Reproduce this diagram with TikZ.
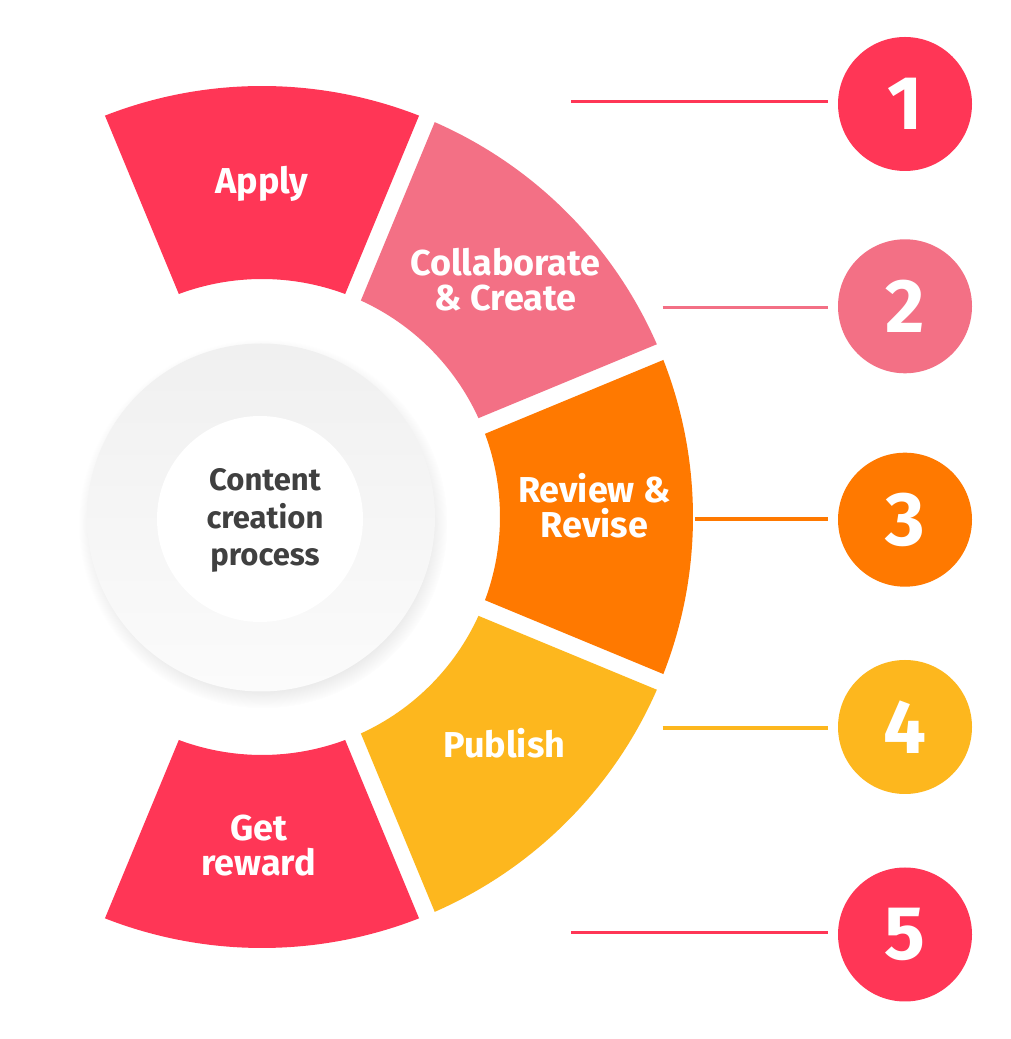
\documentclass[tikz,border=0pt]{standalone}
\usepackage{fontspec}
\setmainfont{Fira Sans}
\usetikzlibrary{calc,shadows,fadings}
\definecolor{redc}{RGB}{255,54,86}
\definecolor{pinkc}{RGB}{243,112,133}
\definecolor{orangec}{RGB}{255,121,0}
\definecolor{yellowc}{RGB}{253,183,30}
\definecolor{textc}{RGB}{64,64,64}
\definecolor{ringtop}{RGB}{240,240,240}
\definecolor{ringbot}{RGB}{251,251,251}
\def\Ro{431}
\def\Ri{238}
\pgfmathsetmacro\ga{asin(8.5/431)}
\pgfmathsetmacro\gb{asin(8.5/238)}
\newcommand{\ringseg}[3]{%
  \fill[#1] ($(C)+({#2-\ga}:\Ro)$) arc[start angle={#2-\ga}, end angle={#3+\ga}, radius=\Ro]
    -- ($(C)+({#3+\gb}:\Ri)$) arc[start angle={#3+\gb}, end angle={#2-\gb}, radius=\Ri] -- cycle;}
\begin{document}
\begin{tikzpicture}[x=1pt,y=1pt,
  segtext/.style={text=white, font=\fontsize{36}{35}\selectfont\bfseries, align=center, anchor=base, inner sep=0pt},
  centertext/.style={text=textc, font=\fontsize{31}{37.5}\selectfont\bfseries, align=center, anchor=base, inner sep=0pt},
  numc/.style={circle, minimum size=134pt, inner sep=0pt, text=white, font=\fontsize{76}{76}\selectfont\bfseries},
  conn/.style={line width=3.3pt, shorten >=9.5pt}]
\useasboundingbox (0,0) rectangle (1011,1039);
\fill[white] (0,0) rectangle (1011,1039);
\coordinate (C) at (262,522);
% central disk
\node[circle, minimum size=348pt, inner sep=0pt, top color=ringtop, bottom color=ringbot,
  circular drop shadow={shadow xshift=2pt, shadow yshift=-6pt, shadow scale=1.06, fill=black, opacity=0.12}]
  (disk) at (261,521.5) {};
\node[circle, fill=white, minimum size=206pt, inner sep=0pt] (core) at (260,520) {};
\node[centertext] (title) at (265,473) {Content\\creation\\process};
% ring segments
\ringseg{redc}{112.5}{67.5}
\ringseg{pinkc}{67.5}{22.5}
\ringseg{orangec}{22.5}{-22.5}
\ringseg{yellowc}{-22.5}{-67.5}
\ringseg{redc}{-67.5}{-112.5}
% segment labels
\node[segtext] (apply) at (262,845.7) {Apply};
\node[segtext] (collab) at (505.5,728.3) {Collaborate\\\& Create};
\node[segtext] (review) at (594.5,501) {Review \&\\Revise};
\node[segtext] (publish) at (504.3,281.7) {Publish};
\node[segtext] (reward) at (258.5,163) {Get\\reward};
% numbered circles
\node[numc, fill=redc] (n1) at (905,935) {1};
\node[numc, fill=pinkc] (n2) at (905,732.7) {2};
\node[numc, fill=orangec] (n3) at (905,519.3) {3};
\node[numc, fill=yellowc] (n4) at (905,312) {4};
\node[numc, fill=redc] (n5) at (905,104.5) {5};
% connectors
\coordinate (s1) at (571,937.3);
\coordinate (s2) at (662.7,731.7);
\coordinate (s3) at (695,520);
\coordinate (s4) at (662.7,311);
\coordinate (s5) at (571,106.3);
\draw[conn, redc] (s1) -- (s1 -| n1.west);
\draw[conn, pinkc] (s2) -- (s2 -| n2.west);
\draw[conn, orangec] (s3) -- (s3 -| n3.west);
\draw[conn, yellowc] (s4) -- (s4 -| n4.west);
\draw[conn, redc] (s5) -- (s5 -| n5.west);
\end{tikzpicture}
\end{document}
